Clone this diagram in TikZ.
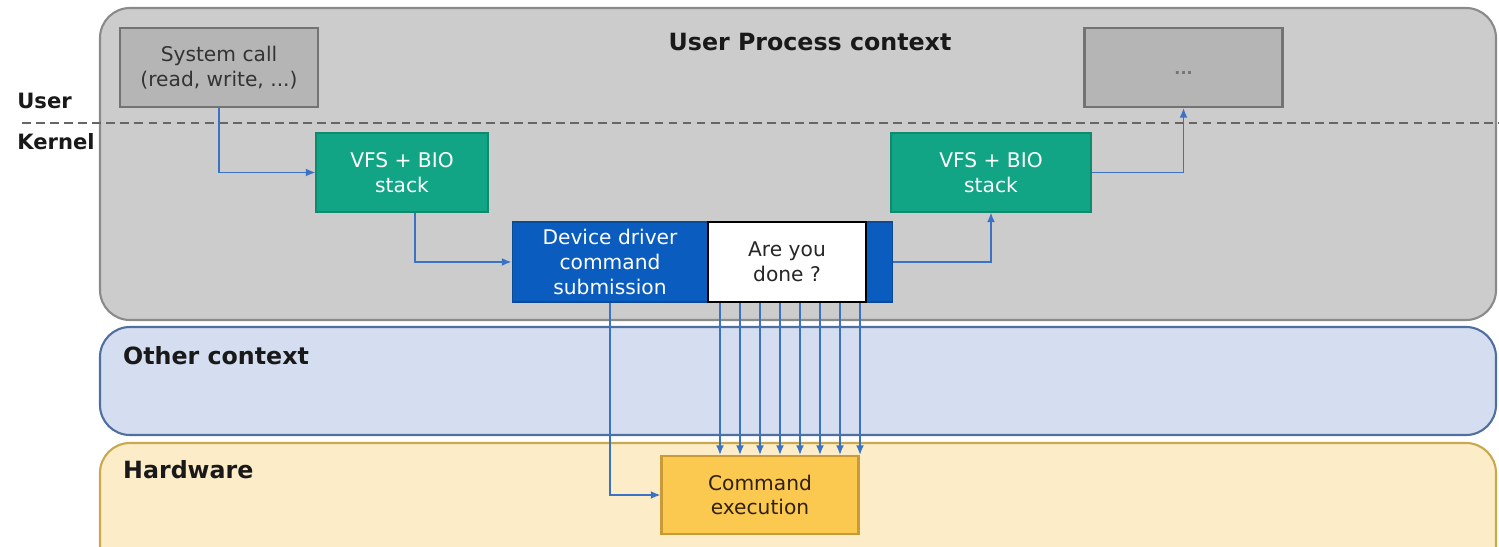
\documentclass[tikz,border=0pt]{standalone}
\usepackage{fontspec}
\setmainfont{DejaVu Sans}
\usepackage{tikz}
\usetikzlibrary{arrows.meta, positioning}
\definecolor{ctxgray}{HTML}{CCCCCC}
\definecolor{ctxgrayborder}{HTML}{8A8A8A}
\definecolor{usergray}{HTML}{B5B5B5}
\definecolor{usergrayborder}{HTML}{737373}
\definecolor{vfsgreen}{HTML}{12A585}
\definecolor{vfsborder}{HTML}{0E8A6E}
\definecolor{drvblue}{HTML}{0B5CBF}
\definecolor{otherbg}{HTML}{D4DEF0}
\definecolor{otherborder}{HTML}{506E9E}
\definecolor{hwbg}{HTML}{FCEDC8}
\definecolor{hwborder}{HTML}{C9A84E}
\definecolor{cmdyellow}{HTML}{FBC950}
\definecolor{cmdborder}{HTML}{C89A38}
\definecolor{flowblue}{HTML}{3B73C4}

\begin{document}
\begin{tikzpicture}[
  x=0.02cm, y=-0.02cm,
  panel/.style={rounded corners=0.6cm, line width=1.2pt},
  ubox/.style={rectangle, draw=usergrayborder, fill=usergray, line width=1.2pt,
               minimum width=3.96cm, minimum height=1.58cm, align=center,
               font=\fontsize{11.5}{14}\selectfont, text=black!80},
  vfs/.style={rectangle, draw=vfsborder, fill=vfsgreen, line width=0.6pt,
              minimum height=1.58cm, align=center,
              font=\fontsize{11.5}{14}\selectfont, text=white},
  drvbox/.style={rectangle, draw=drvblue!80!black, fill=drvblue, line width=0.6pt,
                 minimum width=7.62cm, minimum height=1.6cm},
  donebox/.style={rectangle, draw=black, fill=white, line width=1.2pt,
                  minimum width=3.16cm, minimum height=1.6cm, align=center,
                  font=\fontsize{11.5}{14}\selectfont, text=black!85},
  cmdbox/.style={rectangle, draw=cmdborder, fill=cmdyellow, line width=1.2pt,
                 minimum width=3.94cm, minimum height=1.56cm, align=center,
                 font=\fontsize{11.5}{14}\selectfont, text=black!75!brown},
  ctxlabel/.style={font=\fontsize{13.5}{16}\selectfont\bfseries, text=black!90},
  sidelabel/.style={font=\fontsize{12}{14}\selectfont\bfseries, text=black!90,
                    inner sep=0pt, anchor=base west},
  arrow/.style={-{Latex[length=5.5pt,width=4.5pt]}, line width=0.85pt, color=flowblue}
]
  \useasboundingbox (0,0) rectangle (1499,547);
  \begin{scope}
    \clip (0,0) rectangle (1499,547);
    % context bands
    \draw[panel, draw=ctxgrayborder, fill=ctxgray] (100,8) rectangle (1496,320);
    \draw[panel, draw=otherborder, fill=otherbg] (100,327) rectangle (1496,435);
    \draw[panel, draw=hwborder, fill=hwbg] (100,443) rectangle (1496,580);
  \end{scope}

  % user / kernel boundary
  \draw[dashed, dash pattern=on 5pt off 3pt, line width=0.8pt, black!60] (22,123) -- (1499,123);
  \node[sidelabel] (userlbl) at (17,109) {User};
  \node[sidelabel] (kernlbl) at (17,150) {Kernel};

  \node[ctxlabel] (procttl) at (810,42) {User Process context};
  \node[ctxlabel, anchor=base west] (otherttl) at (117,365) {Other context};
  \node[ctxlabel, anchor=base west] (hwttl) at (117,479) {Hardware};

  % boxes
  \node[ubox] (syscall) at (219,67.5) {System call\\(read, write, ...)};
  \node[ubox, font=\fontsize{9}{10}\selectfont\bfseries, text=black!55] (dots) at (1183.5,67.5)
    {\raisebox{-4pt}[0pt][0pt]{...}};
  \node[vfs, minimum width=3.44cm] (vfsL) at (402,172.5) {VFS + BIO\\stack};
  \node[vfs, minimum width=4cm] (vfsR) at (991,172.5) {VFS + BIO\\stack};
  \node[drvbox] (drv) at (702.5,262) {};
  \node[align=center, text=white, font=\fontsize{11.5}{14}\selectfont] (drvtxt) at (610,262)
    {Device driver\\command\\submission};
  \node[donebox] (done) at (787,262) {Are you\\done ?};
  \node[cmdbox] (cmd) at (760,495) {Command\\execution};

  % request path
  \draw[arrow] (syscall.south) |- (vfsL.west);
  \draw[arrow] ([xshift=0.26cm]vfsL.south) |- (drv.west);
  \draw[arrow] (drvtxt |- drv.south) |- (cmd.west);
  % polling
  \foreach \x in {720,740,...,860}
    \draw[arrow] (done.south -| \x,0) -- (cmd.north -| \x,0);
  % completion path
  \draw[arrow] (drv.east) -| (vfsR.south);
  \draw[arrow] (vfsR.east) -| (dots.south);
\end{tikzpicture}
\end{document}
